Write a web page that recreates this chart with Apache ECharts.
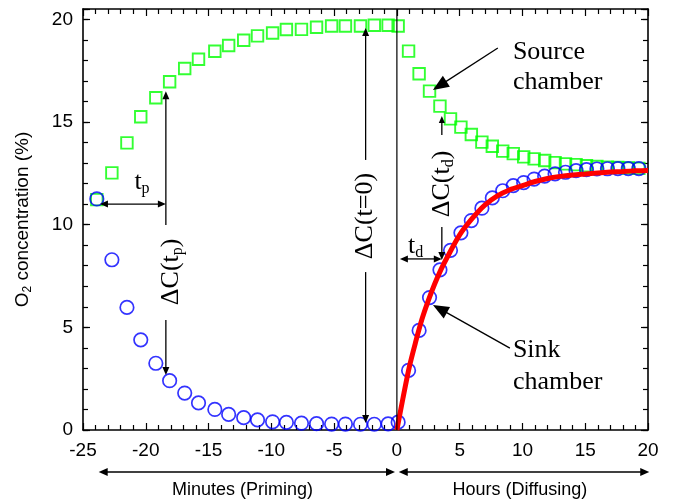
<!DOCTYPE html>
<html><head><meta charset="utf-8">
<script src="https://cdn.jsdelivr.net/npm/echarts@6/dist/echarts.min.js"></script>
<style>html,body{margin:0;padding:0;background:#fff}#c{width:673px;height:503px}</style>
</head><body><div id="c"></div>
<script>
// ---- data ----
const xTickLabels = [-25, -20, -15, -10, -5, 0, 5, 10, 15, 20];
const yTickLabels = [0, 5, 10, 15, 20];

// Priming phase (minutes, negative time)
const primingTime   = [-23.9, -22.7, -21.5, -20.4, -19.2, -18.1, -16.9, -15.8, -14.5, -13.4, -12.2, -11.1, -9.9, -8.8, -7.6, -6.4, -5.2, -4.1, -2.9, -1.8, -0.7];
const primingSource = [11.22, 12.52, 13.98, 15.25, 16.18, 16.96, 17.6, 18.05, 18.44, 18.72, 18.98, 19.19, 19.33, 19.5, 19.51, 19.61, 19.67, 19.67, 19.67, 19.71, 19.71];
const primingSink   = [11.25, 8.29, 5.97, 4.39, 3.25, 2.4, 1.8, 1.32, 1.0, 0.76, 0.6, 0.49, 0.4, 0.37, 0.33, 0.31, 0.29, 0.29, 0.28, 0.28, 0.3];

// Diffusing phase (hours, positive time)
const diffusingTime   = [0.1, 0.93, 1.77, 2.6, 3.43, 4.27, 5.1, 5.93, 6.77, 7.6, 8.43, 9.27, 10.1, 10.93, 11.77, 12.6, 13.43, 14.27, 15.1, 15.93, 16.77, 17.6, 18.43, 19.27];
const diffusingSource = [19.67, 18.45, 17.35, 16.5, 15.77, 15.15, 14.75, 14.39, 14.02, 13.82, 13.58, 13.46, 13.3, 13.2, 13.12, 13.02, 12.96, 12.92, 12.87, 12.83, 12.8, 12.78, 12.76, 12.74];
const diffusingSink   = [0.38, 2.9, 4.85, 6.45, 7.8, 8.75, 9.6, 10.2, 10.8, 11.3, 11.65, 11.9, 12.05, 12.22, 12.36, 12.47, 12.55, 12.63, 12.68, 12.71, 12.72, 12.73, 12.73, 12.73];

// Fitted sink curve (red line)
const fitTime = [0, 0.5, 1, 1.5, 2, 2.5, 3, 3.5, 4, 5, 6, 7, 8, 9, 10, 11, 12, 13, 14, 15, 16, 17, 18, 19, 20];
const fitSink = [0, 1.6, 3.1, 4.3, 5.4, 6.3, 7.1, 7.8, 8.4, 9.5, 10.3, 10.95, 11.4, 11.7, 11.9, 12.1, 12.25, 12.35, 12.42, 12.47, 12.52, 12.56, 12.59, 12.62, 12.64];

// ---- chart ----
const chart = echarts.init(document.getElementById('c'));
const BLACK = '#000';
const SANS = 'Liberation Sans, Arial, sans-serif';
const SERIF = 'Liberation Serif, Times New Roman, serif';

const pairs = (xs, ys) => xs.map((x, i) => [x, ys[i]]);
const sourceData = pairs(primingTime, primingSource).concat(pairs(diffusingTime, diffusingSource));
const sinkData = pairs(primingTime, primingSink).concat(pairs(diffusingTime, diffusingSink));
const fitData = pairs(fitTime, fitSink);

const lineStyle = {color: BLACK, width: 1.6};
const tickStyle = {color: BLACK, width: 1.2};

function xAx(pos, labels) {
  return {
    type: 'value', min: xTickLabels[0], max: xTickLabels[xTickLabels.length - 1], interval: 5, position: pos,
    axisLine: {show: true, onZero: false, lineStyle},
    axisTick: {show: true, inside: true, length: 7, lineStyle: tickStyle},
    minorTick: {show: true, splitNumber: 5, length: 5, lineStyle: tickStyle},
    splitLine: {show: false}, minorSplitLine: {show: false},
    axisLabel: {show: labels, color: BLACK, fontSize: 19, fontFamily: SANS, margin: 11,
      formatter: v => (xTickLabels.indexOf(v) >= 0 ? String(v) : '')}
  };
}
function yAx(pos, interval, major, labels) {
  return {
    type: 'value', min: 0, max: 20.5, interval, position: pos,
    axisLine: {show: major, onZero: false, lineStyle},
    axisTick: {show: true, inside: true, length: major ? 7 : 5, lineStyle: tickStyle},
    splitLine: {show: false},
    axisLabel: {show: labels, color: BLACK, fontSize: 19, fontFamily: SANS, margin: 10,
      formatter: v => (yTickLabels.indexOf(v) >= 0 ? String(v) : '')}
  };
}

const option = {
  animation: false,
  backgroundColor: '#fff',
  grid: {left: 83, right: 25, top: 9, bottom: 73},
  xAxis: [xAx('bottom', true), xAx('top', false)],
  yAxis: [yAx('left', 5, true, true), yAx('left', 1, false, false), yAx('right', 5, true, false), yAx('right', 1, false, false)],
  series: [
    {name: 'Source chamber', type: 'scatter', xAxisIndex: 0, yAxisIndex: 0, data: sourceData,
      symbol: 'rect', symbolSize: 11.5,
      itemStyle: {color: 'rgba(0,0,0,0)', borderColor: '#00ff00', borderWidth: 1.9}},
    {name: 'Sink chamber', type: 'scatter', xAxisIndex: 0, yAxisIndex: 0, data: sinkData,
      symbol: 'circle', symbolSize: 13.5,
      itemStyle: {color: 'rgba(0,0,0,0)', borderColor: '#0000ff', borderWidth: 1.7}},
    {name: 'Fit', type: 'line', xAxisIndex: 0, yAxisIndex: 0, data: fitData, smooth: 0.3,
      showSymbol: false, symbol: 'none', lineStyle: {color: '#ff0000', width: 5}, z: 5}
  ]
};
chart.setOption(option);

// ---- annotations ----
const P = (x, y) => chart.convertToPixel({xAxisIndex: 0, yAxisIndex: 0}, [x, y]);
const G = [];

function arrow(a, b, o) {
  o = Object.assign({head: true, tail: false, hl: 8, hw: 7, lw: 1.3}, o || {});
  const dx = b[0] - a[0], dy = b[1] - a[1], L = Math.hypot(dx, dy);
  const ux = dx / L, uy = dy / L, px = -uy, py = ux;
  let s = a.slice(), e = b.slice();
  if (o.head) e = [b[0] - ux * o.hl * 0.7, b[1] - uy * o.hl * 0.7];
  if (o.tail) s = [a[0] + ux * o.hl * 0.7, a[1] + uy * o.hl * 0.7];
  G.push({type: 'line', z: 100, shape: {x1: s[0], y1: s[1], x2: e[0], y2: e[1]}, style: {stroke: BLACK, lineWidth: o.lw}});
  const tri = (t, sx, sy) => ({type: 'polygon', z: 101,
    shape: {points: [[t[0], t[1]],
      [t[0] - sx * o.hl + px * o.hw / 2, t[1] - sy * o.hl + py * o.hw / 2],
      [t[0] - sx * o.hl - px * o.hw / 2, t[1] - sy * o.hl - py * o.hw / 2]]},
    style: {fill: BLACK}});
  if (o.head) G.push(tri(b, ux, uy));
  if (o.tail) G.push(tri(a, -ux, -uy));
}
function text(pt, str, o) {
  o = o || {};
  const fs = o.fs || 26;
  G.push({type: 'text', z: 102, x: pt[0], y: pt[1], rotation: o.rot || 0,
    style: {text: str, fill: BLACK, fontSize: fs, fontFamily: o.family || SERIF,
      align: o.align || 'center', verticalAlign: 'middle',
      rich: {
        a: {fontSize: fs, fontFamily: o.family || SERIF, fill: BLACK},
        s: {fontSize: o.sfs || 16, fontFamily: o.family || SERIF, fill: BLACK, padding: [o.sp || 13, 0, 0, 0]}
      }}});
}

// vertical line at t = 0
(function () { const a = P(0, 0), b = P(0, 20.5); G.push({type: 'line', z: 99, shape: {x1: a[0], y1: a[1], x2: b[0], y2: b[1]}, style: {stroke: BLACK, lineWidth: 1.2}}); })();

// t_p
arrow(P(-23.65, 11.0), P(-18.4, 11.0), {tail: true});
text(P(-20.3, 12.05), '{a|t}{s|p}');
// ΔC(t_p)
arrow(P(-18.4, 9.98), P(-18.4, 16.5));
arrow(P(-18.4, 5.36), P(-18.4, 2.68));
text(P(-18.0, 7.7), '{a|ΔC(t}{s|p}{a|)}', {rot: Math.PI / 2});
// ΔC(t=0)
arrow(P(-2.49, 13.15), P(-2.49, 19.57));
arrow(P(-2.49, 7.69), P(-2.49, 0.34));
text(P(-2.55, 10.42), '{a|ΔC(t=0)}', {rot: Math.PI / 2});
// t_d
arrow(P(0.24, 8.33), P(3.58, 8.33), {tail: true});
text(P(1.5, 8.95), '{a|t}{s|d}');
// ΔC(t_d)
arrow(P(3.58, 9.88), P(3.58, 8.28));
arrow(P(3.58, 14.36), P(3.58, 15.29), {hl: 7, hw: 6});
text(P(3.58, 11.98), '{a|ΔC(t}{s|d}{a|)}', {rot: Math.PI / 2});
// Source / Sink labels
arrow(P(8.04, 18.6), P(2.87, 16.56), {hl: 16, hw: 13});
text(P(9.24, 18.41), 'Source', {align: 'left'});
text(P(9.24, 16.95), 'chamber', {align: 'left'});
arrow(P(9.0, 3.99), P(2.87, 6.09), {hl: 16, hw: 13});
text(P(9.24, 3.9), 'Sink', {align: 'left'});
text(P(9.24, 2.35), 'chamber', {align: 'left'});

// bottom phase arrows
(function () {
  const yb = P(0, 0)[1];
  const ya = yb + 42, yt = yb + 60;
  arrow([P(-23.75, 0)[0], ya], [P(-0.15, 0)[0], ya], {tail: true, hl: 9, hw: 8});
  arrow([P(0.15, 0)[0], ya], [P(20.1, 0)[0], ya], {tail: true, hl: 9, hw: 8});
  text([P(-12.3, 0)[0], yt], 'Minutes (Priming)', {family: SANS, fs: 18});
  text([P(9.8, 0)[0], yt], 'Hours (Diffusing)', {family: SANS, fs: 18});
  // y axis title
  text([23, P(0, 10.25)[1]], '{a|O}{s|2}{a| concentration (%)}', {family: SANS, fs: 19, sfs: 12, sp: 9, rot: Math.PI / 2});
})();

chart.setOption({graphic: G});
</script>
</body></html>
